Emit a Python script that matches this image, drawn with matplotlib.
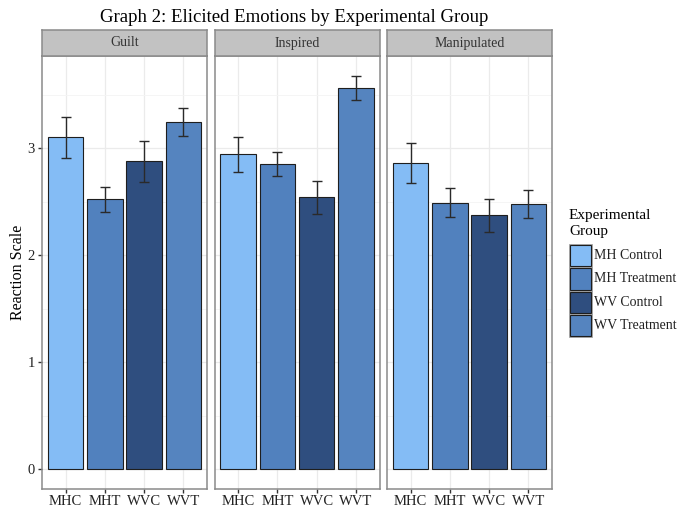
import matplotlib
matplotlib.use("Agg")
import matplotlib.pyplot as plt
from matplotlib.patches import Rectangle
import numpy as np

plt.rcParams['font.family'] = ['Liberation Serif', 'DejaVu Serif']

# ---- data -------------------------------------------------------------
emotions = ["Guilt", "Inspired", "Manipulated"]
groups = ["MHC", "MHT", "WVC", "WVT"]
group_names = ["MH Control", "MH Treatment", "WV Control", "WV Treatment"]

guilt_mean = [3.10, 2.52, 2.875, 3.24]
guilt_se = [0.19, 0.12, 0.195, 0.13]
inspired_mean = [2.94, 2.85, 2.54, 3.56]
inspired_se = [0.165, 0.115, 0.155, 0.115]
manipulated_mean = [2.86, 2.49, 2.37, 2.48]
manipulated_se = [0.185, 0.135, 0.155, 0.13]

means = [guilt_mean, inspired_mean, manipulated_mean]
errors = [guilt_se, inspired_se, manipulated_se]

colors = ["#84BCF5", "#5181BE", "#2F4E7F", "#5584BF"]
y_ticks = [0, 1, 2, 3]

# ---- layout helpers (pixel boxes -> figure fractions) ----------------
W, H = 679, 511
fig = plt.figure(figsize=(W / 100, H / 100), dpi=100)


def box(x0, y0, x1, y1):
    return [x0 / W, (H - y1) / H, (x1 - x0) / W, (y1 - y0) / H]


panel_x = [(42, 207), (214.5, 379.5), (387, 552)]
panel_top, panel_bot = 56, 489
strip_top = 30

border_col = "#8A8A8A"
text_col = "#222222"

x = np.arange(1, len(groups) + 1)
for i, (x0, x1) in enumerate(panel_x):
    ax = fig.add_axes(box(x0, panel_top, x1, panel_bot))
    ax.set_facecolor("white")
    ax.bar(x, means[i], width=0.9, color=colors, edgecolor="#1E1E1E",
           linewidth=0.8, zorder=3)
    ax.errorbar(x, means[i], yerr=errors[i], fmt="none", ecolor="#2A2A2A",
                elinewidth=1.0, capsize=3.5, capthick=1.0, zorder=4)
    ax.set_xlim(0.4, 4.6)
    ax.set_ylim(-0.185, 3.86)
    ax.set_xticks(x)
    ax.set_xticklabels(groups, fontsize=10.5, color=text_col)
    ax.set_yticks(y_ticks)
    ax.set_yticks([0.5, 1.5, 2.5, 3.5], minor=True)
    ax.grid(which="major", color="#EBEBEB", linewidth=0.9, zorder=0)
    ax.grid(which="minor", axis="y", color="#F4F4F4", linewidth=0.6, zorder=0)
    ax.tick_params(axis="x", which="major", length=3, width=1.0,
                   color="#333333", pad=1.5)
    ax.tick_params(axis="y", which="minor", length=0)
    if i == 0:
        ax.set_yticklabels([str(t) for t in y_ticks], fontsize=10.5, color=text_col)
        ax.tick_params(axis="y", which="major", length=3, width=1.0,
                       color="#333333", pad=2)
    else:
        ax.tick_params(axis="y", which="major", length=0, labelleft=False)
    for sp in ax.spines.values():
        sp.set_color(border_col)
        sp.set_linewidth(1.1)
        sp.set_zorder(5)

    # facet strip
    sax = fig.add_axes(box(x0, strip_top, x1, panel_top))
    sax.set_facecolor("#C2C2C2")
    sax.set_xticks([])
    sax.set_yticks([])
    for sp in sax.spines.values():
        sp.set_color(border_col)
        sp.set_linewidth(1.1)
    sax.text(0.5, 0.5, emotions[i], ha="center", va="center",
             fontsize=10, color="#333333", transform=sax.transAxes)

# y axis label
fig.text(18 / W, 1 - 272 / H, "Reaction Scale", rotation=90,
         ha="center", va="center", fontsize=11.5, color="black")

# title
fig.text(294 / W, 1 - 17 / H, "Graph 2: Elicited Emotions by Experimental Group",
         ha="center", va="center", fontsize=13.5, color="black")

# legend drawn in pixel space
lax = fig.add_axes([0, 0, 1, 1])
lax.set_xlim(0, W)
lax.set_ylim(H, 0)
lax.axis("off")
lax.text(569, 215, "Experimental", ha="left", va="center", fontsize=11)
lax.text(569, 232, "Group", ha="left", va="center", fontsize=11)
key_top, key_h, key_x, key_w = 244, 23.3, 569, 23
for j, (name, col) in enumerate(zip(group_names, colors)):
    y0 = key_top + j * key_h
    lax.add_patch(Rectangle((key_x, y0), key_w, key_h, facecolor="#F2F2F2",
                            edgecolor="#9A9A9A", linewidth=0.6))
    lax.add_patch(Rectangle((key_x + 1, y0 + 1), key_w - 2, key_h - 2,
                            facecolor=col, edgecolor="#1E1E1E", linewidth=0.8))
    lax.text(key_x + key_w + 2.5, y0 + key_h / 2, name, ha="left", va="center",
             fontsize=10, color="#222222")

fig.savefig("out.png", dpi=100)
